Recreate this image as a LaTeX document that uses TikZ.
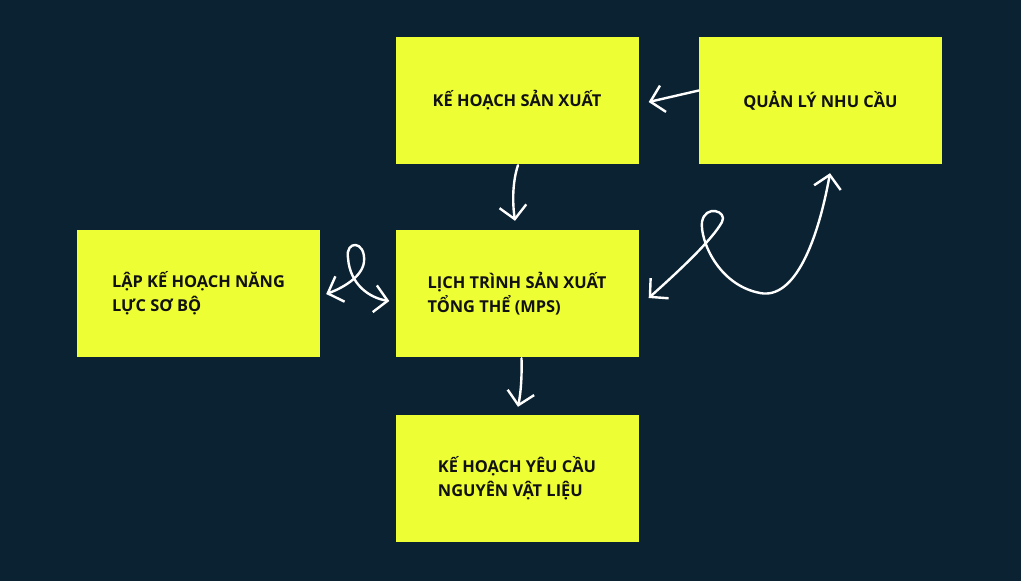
\documentclass[tikz,border=0pt]{standalone}
\usepackage{fontspec}
\setmainfont{Open Sans}
\usetikzlibrary{arrows.meta}
\usetikzlibrary{calc}

\definecolor{bgnavy}{HTML}{0B2233}
\definecolor{notepad}{HTML}{EEFE34}
\definecolor{ink}{HTML}{111111}

\begin{document}
\begin{tikzpicture}
[x=1pt,y=-1pt,%
  chev/.tip={Straight Barb[length=13pt,width=27pt]},%
  box/.style={fill=notepad,minimum width=243pt,minimum height=127pt,inner sep=0pt,
    align=left,text=ink,font=\bfseries\fontsize{16.4}{24}\selectfont},%
  link/.style={draw=white,line width=2.4pt,line cap=round,line join=round,-chev}]
\fill[bgnavy] (0,0) rectangle (1021,581);
\node[box] (plan) at (517,100.5) {KẾ HOẠCH SẢN XUẤT};
\node[box] (demand) at (820.5,100.5) {QUẢN LÝ NHU CẦU};
\node[box] (rough) at (198.5,293.5) {LẬP KẾ HOẠCH NĂNG\\LỰC SƠ BỘ};
\node[box] (mps) at (517,293.5) {LỊCH TRÌNH SẢN XUẤT\\TỔNG THỂ (MPS)};
\node[box] (mrp) at (517,478.5) {KẾ HOẠCH YÊU CẦU\\NGUYÊN VẬT LIỆU};
%% hand drawn connectors
\draw[link] ($(demand.west)+(0,-10)$) -- ($(plan.east)+(10,1.5)$);
\draw[link] ($(plan.south)+(1,1)$) .. controls (513,180) and (512,200) .. ($(mps.north)+(-2,-9)$);
\draw[link] ($(mps.south)+(4.5,1)$) .. controls (522,375) and (521,392) .. ($(mrp.north)+(1,-8)$);
\draw[link,chev-chev] ($(rough.east)+(6,0.5)$) .. controls (340,289) and (362,278) .. (364,262)
  .. controls (366,240) and (345,240) .. (348,258)
  .. controls (350,285) and (370,298) .. ($(mps.west)+(-6,7.5)$);
\draw[link,chev-chev] ($(mps.east)+(10,4.5)$) .. controls (680,270) and (712,240) .. (722,222)
  .. controls (728,211) and (705,204) .. (702,222)
  .. controls (700,240) and (718,285) .. (760,293)
  .. controls (795,300) and (818,240) .. ($(demand.south)+(9.5,9)$);
\end{tikzpicture}
\end{document}
